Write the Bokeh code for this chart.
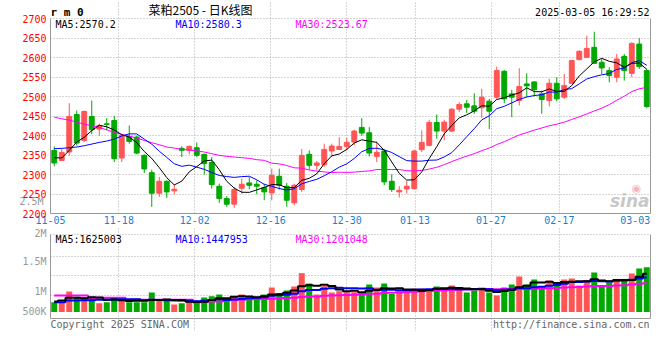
import pandas as pd
from bokeh.plotting import figure
from bokeh.models import Range1d, FixedTicker, LinearAxis, Label, Span
from bokeh.layouts import column
from bokeh.embed import file_html
from bokeh.resources import INLINE

# ---------------- data ----------------
dates = ["11-05", "11-06", "11-07", "11-08", "11-11", "11-12", "11-13", "11-14", "11-15", "11-18",
         "11-19", "11-20", "11-21", "11-22", "11-25", "11-26", "11-27", "11-28", "11-29",
         "12-02", "12-03", "12-04", "12-05", "12-06", "12-09", "12-10", "12-11", "12-12", "12-13",
         "12-16", "12-17", "12-18", "12-19", "12-20", "12-23", "12-24", "12-25", "12-26", "12-27",
         "12-30", "12-31",
         "01-02", "01-03", "01-06", "01-07", "01-08", "01-09", "01-10", "01-13", "01-14", "01-15",
         "01-16", "01-17", "01-20", "01-21", "01-22", "01-23", "01-24", "01-27",
         "02-05", "02-06", "02-07", "02-10", "02-11", "02-12", "02-13", "02-14", "02-17", "02-18",
         "02-19", "02-20", "02-21", "02-24", "02-25", "02-26", "02-27", "02-28",
         "03-03", "03-04", "03-05"]

opens = [2361.9, 2336.0, 2357.6, 2453.9, 2387.4, 2448.8, 2416.4, 2430.0, 2438.6, 2342.3,
         2397.7, 2396.0, 2349.0, 2304.8, 2252.0, 2282.6, 2258.0, 2367.0, 2361.9, 2368.7,
         2351.7, 2331.2, 2269.9, 2238.3, 2223.9, 2264.8, 2278.4, 2275.0, 2266.5, 2252.8,
         2295.4, 2270.0, 2227.3, 2261.3, 2351.7, 2323.5, 2325.2, 2360.2, 2364.4, 2372.1,
         2383.2, 2420.7, 2407.0, 2346.5, 2360.2, 2282.6, 2255.4, 2263.0, 2263.9, 2363.6,
         2374.7, 2433.4, 2411.3, 2411.3, 2467.5, 2481.2, 2476.0, 2471.0, 2488.0, 2498.2,
         2564.7, 2506.7, 2489.7, 2532.3, 2537.4, 2506.7, 2489.7, 2534.0, 2498.2, 2534.0,
         2594.5, 2600.4, 2626.0, 2587.7, 2566.4, 2549.3, 2603.0, 2559.5, 2634.5, 2566.4]
highs = [2372.0, 2365.0, 2482.9, 2464.0, 2464.0, 2489.7, 2430.0, 2445.0, 2450.5, 2402.8,
         2425.8, 2400.0, 2351.7, 2312.5, 2293.7, 2285.0, 2275.0, 2372.0, 2374.7, 2382.3,
         2353.4, 2344.8, 2276.7, 2245.0, 2268.0, 2289.5, 2293.7, 2285.0, 2276.7, 2315.0,
         2315.0, 2278.4, 2276.7, 2365.3, 2361.9, 2334.6, 2379.0, 2379.0, 2396.0, 2394.3,
         2414.7, 2444.5, 2421.5, 2384.9, 2363.6, 2300.5, 2270.0, 2283.5, 2363.6, 2413.0,
         2440.3, 2454.0, 2440.3, 2470.0, 2485.4, 2491.4, 2508.4, 2519.5, 2494.0, 2576.6,
         2568.0, 2517.0, 2572.3, 2559.5, 2539.0, 2515.2, 2545.0, 2549.3, 2557.8, 2593.6,
         2619.2, 2655.8, 2666.0, 2596.2, 2574.9, 2609.0, 2609.0, 2638.8, 2649.9, 2570.6]
lows = [2321.0, 2334.6, 2349.0, 2373.8, 2383.0, 2402.8, 2399.0, 2413.0, 2332.0, 2332.0,
        2379.0, 2351.7, 2304.0, 2217.0, 2242.6, 2240.0, 2248.6, 2344.8, 2351.7, 2344.8,
        2299.7, 2263.9, 2227.3, 2217.0, 2214.5, 2251.0, 2262.0, 2249.4, 2234.0, 2234.0,
        2261.3, 2217.0, 2221.3, 2255.4, 2312.5, 2310.8, 2319.3, 2344.8, 2363.6, 2361.9,
        2374.7, 2399.4, 2346.5, 2332.0, 2272.4, 2255.4, 2241.0, 2251.0, 2261.3, 2357.6,
        2372.0, 2391.7, 2387.4, 2408.7, 2459.9, 2457.3, 2455.6, 2445.4, 2416.4, 2494.0,
        2482.9, 2447.0, 2477.0, 2498.2, 2500.0, 2455.6, 2474.3, 2488.0, 2494.0, 2532.3,
        2593.6, 2598.7, 2583.4, 2557.8, 2536.5, 2536.5, 2540.8, 2549.3, 2570.6, 2470.0]
closes = [2329.5, 2356.8, 2448.8, 2380.6, 2461.6, 2414.7, 2425.8, 2428.3, 2340.6, 2400.2,
          2384.9, 2355.0, 2314.2, 2252.0, 2282.6, 2255.4, 2262.2, 2361.9, 2372.1, 2349.1,
          2327.8, 2274.1, 2238.3, 2223.9, 2261.3, 2275.0, 2272.4, 2270.0, 2255.4, 2298.0,
          2272.4, 2234.0, 2272.4, 2349.0, 2323.5, 2329.5, 2364.4, 2373.0, 2372.1, 2382.3,
          2411.3, 2406.2, 2355.0, 2356.8, 2281.0, 2261.3, 2259.6, 2269.9, 2360.2, 2382.3,
          2433.4, 2411.3, 2434.3, 2467.5, 2479.5, 2472.6, 2462.4, 2498.2, 2462.4, 2566.4,
          2494.0, 2498.2, 2525.5, 2527.2, 2517.8, 2492.2, 2534.0, 2494.0, 2528.0, 2592.0,
          2615.8, 2623.4, 2585.0, 2573.2, 2553.6, 2596.2, 2566.4, 2636.2, 2576.6, 2474.3]
volumes = [416000, 416000, 867000, 599000, 627000, 599000, 374000, 416000, 627000, 486000,
           416000, 416000, 416000, 825000, 486000, 486000, 317000, 374000, 486000, 374000,
           613000, 670000, 740000, 515000, 670000, 740000, 599000, 599000, 740000, 1036000,
           797000, 909000, 1079000, 1643000, 1206000, 740000, 1093000, 825000, 881000, 839000,
           839000, 797000, 1163000, 1036000, 1206000, 768000, 867000, 867000, 994000, 994000,
           952000, 1079000, 994000, 1121000, 952000, 825000, 909000, 994000, 825000, 698000,
           1036000, 1163000, 1502000, 1163000, 1375000, 1036000, 1332000, 1248000, 1375000, 1417000,
           1121000, 1332000, 1671000, 1121000, 1248000, 1375000, 1375000, 1629000, 1840000, 1896000]

# moving-average values at the left edge, where the window reaches before the shown days
ma5_head = [2343.1, 2342.3, 2361.9, 2383.2]
ma10_head = [2366.1, 2367.0, 2368.7, 2370.4, 2373.8, 2378.0, 2382.3, 2385.7, 2390.8]
ma30_head = [2447.1, 2442.8, 2439.4, 2434.3, 2429.2, 2424.9, 2420.7, 2414.7, 2407.9, 2402.8,
             2398.5, 2393.4, 2387.4, 2381.5, 2376.4, 2370.4, 2367.8, 2364.4, 2362.7, 2361.0,
             2357.6, 2353.4, 2349.1, 2346.5, 2344.8, 2343.1, 2341.4, 2338.0, 2336.3]
vol_ma5_head = [444000, 486000, 599000, 599000]
vol_ma10_head = [416000, 416000, 486000, 486000, 500000, 500000, 515000, 515000, 530000]
vol_ma30_head = [698000, 698000, 698000, 698000, 698000, 599000, 599000, 599000, 599000, 599000,
                 515000, 515000, 515000, 515000, 515000, 515000, 515000, 515000, 515000, 444000,
                 444000, 444000, 444000, 500000, 510000, 520000, 535000, 545000, 555000]

tick_dates = ["11-05", "11-18", "12-02", "12-16", "12-30", "01-13", "01-27", "02-17", "03-03"]
price_ticks = [2200, 2250, 2300, 2350, 2400, 2450, 2500, 2550, 2600, 2650, 2700]
vol_tick_labels = ["500K", "1M", "1.5M", "2M", "2.5M"]
price_header = ["MA5:2570.2", "MA10:2580.3", "MA30:2523.67"]
vol_header = ["MA5:1625003", "MA10:1447953", "MA30:1201048"]
title_text = "菜粕2505 - 日K线图"
code_text = "r m 0"
time_text = "2025-03-05 16:29:52"
copyright_text = "Copyright 2025 SINA.COM"
url_text = "http://finance.sina.com.cn"
logo_text = "sina"


def with_head(vals, n, head):
    rolled = pd.Series(vals, dtype=float).rolling(n).mean().tolist()
    return list(head) + rolled[n - 1:]


ma5 = with_head(closes, 5, ma5_head)
ma10 = with_head(closes, 10, ma10_head)
ma30 = with_head(closes, 30, ma30_head)
vma5 = with_head(volumes, 5, vol_ma5_head)
vma10 = with_head(volumes, 10, vol_ma10_head)
vma30 = with_head(volumes, 30, vol_ma30_head)

n = len(dates)
idx = list(range(n))
RED, GREEN = "#ff5555", "#00a800"
colors = [RED if c >= o else GREEN for o, c in zip(opens, closes)]
body_top = [max(o, c) for o, c in zip(opens, closes)]
body_bot = [min(o, c) for o, c in zip(opens, closes)]


# ---------------- layout helpers (reference pixel -> data coords) ----------------
def sx(px):
    return (px - 50) / 7.5 - 0.5


def py(px):
    return 2200 + (213 - px) / 0.39


def vy(px):
    return (311.5 - px) * 42300


MONO = "DejaVu Sans Mono"
GRID = "#aaaaaa"
AXIS = "#999999"
xt = [dates.index(d) * 80 / 79 - 0.5 for d in tick_dates]
xr = Range1d(-0.5, 79.5)


def style_axis(ax, color, standoff):
    ax.major_label_text_color = color
    ax.major_label_text_font = MONO
    ax.major_label_text_font_size = "10px"
    ax.major_label_standoff = standoff
    ax.major_tick_line_color = None
    ax.minor_tick_line_color = None
    ax.major_tick_out = 0
    ax.major_tick_in = 0
    ax.minor_tick_out = 0


def border_axis(bounds):
    ax = LinearAxis(ticker=FixedTicker(ticks=[]), bounds=bounds, axis_line_color=AXIS,
                    major_label_text_font_size="0px")
    style_axis(ax, AXIS, 0)
    ax.major_label_text_font_size = "0px"
    return ax


def txt(fig, x, y, text, color="#000000", size="10px", align="left", font=MONO, style="normal"):
    fig.add_layout(Label(x=x, y=y, text=text, text_color=color, text_font=font,
                         text_font_size=size, text_align=align, text_baseline="middle",
                         text_font_style=style))


# ---------------- price panel (its frame also holds the header row) ----------------
pb = (2200, 2700)
p = figure(frame_width=600, frame_height=213, x_range=xr, y_range=Range1d(2200, py(0)),
           min_border_left=50, min_border_right=2, min_border_top=0, min_border_bottom=14,
           output_backend="svg", toolbar_location=None)
p.outline_line_color = None
p.yaxis.ticker = FixedTicker(ticks=price_ticks)
p.yaxis.bounds = pb
style_axis(p.yaxis[0], "#ff0000", 4)
p.yaxis.axis_line_color = AXIS
p.xaxis.ticker = FixedTicker(ticks=xt)
p.xaxis.major_label_overrides = dict(zip(xt, tick_dates))
style_axis(p.xaxis[0], "#1a7fd0", 2)
p.xaxis.axis_line_color = AXIS
# outer left axis carrying the grey "2.5M" volume label that sits in the price margin
mlab = [py(200.5)]
vol_label_axis = LinearAxis(ticker=FixedTicker(ticks=mlab), axis_line_color=None,
                            major_label_overrides={mlab[0]: vol_tick_labels[4]})
style_axis(vol_label_axis, "#999999", -24)
p.add_layout(vol_label_axis, "left")
p.add_layout(border_axis(pb), "right")
p.xgrid.ticker = FixedTicker(ticks=xt[1:-1])
p.xgrid.bounds = pb
p.ygrid.ticker = FixedTicker(ticks=price_ticks)
p.grid.grid_line_color = GRID
p.grid.grid_line_dash = "1 2"

p.segment(x0=idx, y0=lows, x1=idx, y1=highs, color=colors, line_width=1)
p.vbar(x=idx, top=body_top, bottom=body_bot, width=0.65, fill_color=colors, line_color=colors)
p.line(idx, ma30, color="#ff00ff", line_width=1)
p.line(idx, ma10, color="#0000ff", line_width=1)
p.line(idx, ma5, color="#000000", line_width=1)

txt(p, sx(50), py(12.3), code_text, "#000000", size="11px", style="bold")
txt(p, sx(200), py(9.3), title_text, "#000000", size="12px", align="center", font="Noto Sans CJK SC")
txt(p, sx(649), py(12.3), time_text, "#000000", align="right")
txt(p, sx(55), py(24.3), price_header[0], "#000000")
txt(p, sx(175), py(24.3), price_header[1], "#0000ff")
txt(p, sx(295), py(24.3), price_header[2], "#ff00ff")
txt(p, sx(649), py(200), logo_text, "#c8c8c8", size="17px", align="right", font="DejaVu Sans",
    style="bold italic")
txt(p, sx(636), py(188), "◉", "#f6b4b4", size="11px", align="center", font="DejaVu Sans")

# ---------------- volume panel (its frame also holds the footer row) ----------------
vb = (vy(318), vy(234))
v = figure(frame_width=600, frame_height=104, x_range=xr, y_range=Range1d(vy(331), vy(227)),
           min_border_left=50, min_border_right=2, min_border_top=0, min_border_bottom=0,
           x_axis_location=None, output_backend="svg", toolbar_location=None)
v.outline_line_color = None
v.yaxis.ticker = FixedTicker(ticks=[])
v.yaxis.bounds = vb
style_axis(v.yaxis[0], AXIS, 0)
v.yaxis.major_label_text_font_size = "0px"
v.yaxis.axis_line_color = AXIS
vt = [vy(310.7), vy(290.7), vy(260.7), vy(230.7)]
vol_axis = LinearAxis(ticker=FixedTicker(ticks=vt), axis_line_color=None,
                      major_label_overrides=dict(zip(vt, vol_tick_labels[:4])))
style_axis(vol_axis, "#999999", 4)
v.add_layout(vol_axis, "left")
v.add_layout(border_axis(vb), "right")
v.add_layout(Span(location=vb[0], dimension="width", line_color=AXIS, line_width=1))
v.xgrid.ticker = FixedTicker(ticks=xt[1:-1])
v.xgrid.bounds = vb
v.ygrid.ticker = FixedTicker(ticks=[vy(234), vy(255.7), vy(275.3), vy(295)])
v.grid.grid_line_color = GRID
v.grid.grid_line_dash = "1 2"

v.vbar(x=idx, top=volumes, bottom=0, width=0.8, fill_color=colors, line_color=None)
v.step(idx, vma30, mode="center", color="#ff00ff", line_width=2)
v.step(idx, vma10, mode="center", color="#0000ff", line_width=2)
v.step(idx, vma5, mode="center", color="#000000", line_width=2)

txt(v, sx(55), vy(238.8), vol_header[0], "#000000")
txt(v, sx(175), vy(238.8), vol_header[1], "#0000ff")
txt(v, sx(295), vy(238.8), vol_header[2], "#ff00ff")
txt(v, sx(50), vy(323.5), copyright_text, "#666666")
txt(v, sx(649), vy(323.5), url_text, "#666666", align="right")

layout = column(p, v)
open("out.html", "w").write(file_html(layout, INLINE))
